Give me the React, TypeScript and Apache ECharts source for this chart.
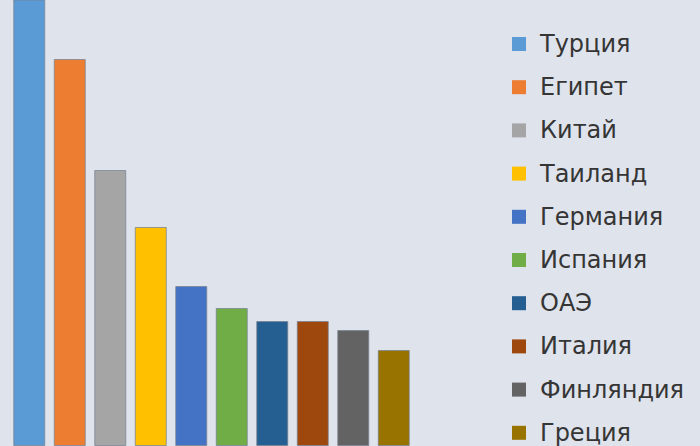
import React, { useEffect, useRef } from "react";
import * as echarts from "echarts";

const countries = ["Турция", "Египет", "Китай", "Таиланд", "Германия", "Испания", "ОАЭ", "Италия", "Финляндия", "Греция"];
const values = [50, 38.7, 27.6, 21.9, 16.0, 13.8, 12.5, 12.5, 11.6, 9.6];
const colors = ["#5b9bd5", "#ed7d31", "#a5a5a5", "#ffc000", "#4472c4", "#70ad47", "#255e91", "#9e480e", "#636363", "#997300"];

export default function App() {
  const ref = useRef<HTMLDivElement>(null);
  useEffect(() => {
    if (!ref.current) return;
    const chart = echarts.init(ref.current, null, { renderer: "svg" });
    const series = countries.map((name, i) => ({
      name,
      type: "bar",
      stack: "all",
      barWidth: 32,
      data: values.map((v, j) => (j === i ? v : "-")),
      itemStyle: { color: colors[i], borderColor: "rgba(120,130,145,0.75)", borderWidth: 1 },
    }));
    chart.setOption({
      animation: false,
      backgroundColor: "#dfe3ec",
      grid: { left: 9, width: 405, top: 0, bottom: 0 },
      xAxis: { type: "category", data: countries, show: false },
      yAxis: { type: "value", min: 0, max: 44.6, show: false },
      legend: {
        orient: "vertical",
        left: 512,
        top: 32,
        height: 440,
        padding: 0,
        itemWidth: 14,
        itemHeight: 14,
        itemGap: 19.2,
        icon: "rect",
        itemStyle: { borderWidth: 0 },
        textStyle: {
          fontFamily: "DejaVu Sans",
          fontSize: 24,
          lineHeight: 24,
          color: "#353535",
          padding: [0, 0, 0, 9],
        },
        data: countries,
      },
      series,
    });
    return () => chart.dispose();
  }, []);
  return (
    <div
      ref={ref}
      style={{ position: "fixed", left: 0, top: 0, width: 700, height: 446 }}
    />
  );
}
